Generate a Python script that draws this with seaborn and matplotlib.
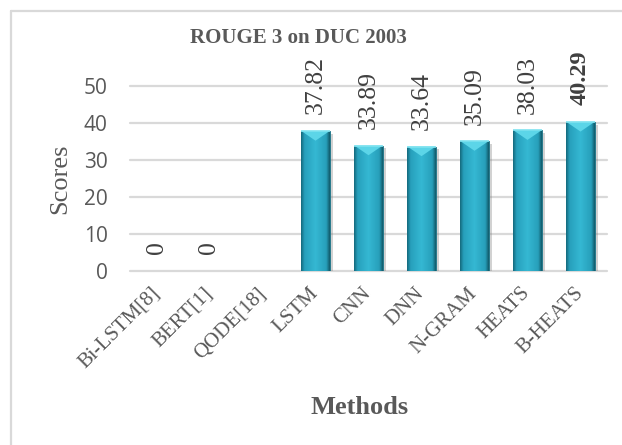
import numpy as np
import pandas as pd
import matplotlib
matplotlib.use("Agg")
import matplotlib.pyplot as plt
import seaborn as sns
from matplotlib.colors import LinearSegmentedColormap
from matplotlib.patches import Polygon
from matplotlib.lines import Line2D
import matplotlib.patheffects as pe

# ROUGE-3 scores on DUC 2003 (QODE has no reported score)
methods = ["Bi-LSTM[8]", "BERT[1]", "QODE[18]", "LSTM", "CNN", "DNN",
           "N-GRAM", "HEATS", "B-HEATS"]
scores = [0, 0, np.nan, 37.82, 33.89, 33.64, 35.09, 38.03, 40.29]
highlight = "B-HEATS"
y_ticks = [0, 10, 20, 30, 40, 50]

sns.set_theme(style="white")
plt.rcParams["font.family"] = ["Liberation Serif", "DejaVu Sans"]

TEXT = "#595959"
LABEL = "#404040"
GRID = "#d9d9d9"

fig = plt.figure(figsize=(6.22, 4.45), dpi=100)
W, H = 622, 445
ax = fig.add_axes([130 / W, 1 - 271 / H, 477 / W, (271 - 86) / H])

df = pd.DataFrame({"method": methods, "score": scores})
sns.barplot(data=df, x="method", y="score", order=methods, width=0.53,
            color="#2aa7c3", saturation=1, edgecolor="#1a6f82",
            linewidth=0.6, ax=ax)

# cylinder-like shading, bevelled top and soft drop shadow on each bar
shade = LinearSegmentedColormap.from_list(
    "shade", [(0.0, "#156a7e"), (0.12, "#27a0bc"), (0.5, "#35b8d3"),
              (0.88, "#279fba"), (1.0, "#125b6b")])
grad = np.tile(np.linspace(0, 1, 64), (8, 1))
for p in ax.patches:
    h = p.get_height()
    if not np.isfinite(h) or h <= 0:
        continue
    x0, w = p.get_x(), p.get_width()
    p.set_path_effects([pe.SimplePatchShadow(offset=(2.5, -2), shadow_rgbFace="#7f7f7f",
                                             alpha=0.35), pe.Normal()])
    im = ax.imshow(grad, cmap=shade, aspect="auto", extent=[x0, x0 + w, 0, h],
                   zorder=p.get_zorder() + 0.1, interpolation="bilinear")
    im.set_clip_path(p)
    tri = Polygon([[x0, h], [x0 + w, h], [x0 + w / 2, h - 2.6]], closed=True,
                  facecolor="#5cd5e8", edgecolor="none", zorder=p.get_zorder() + 0.2)
    ax.add_patch(tri)
    ax.plot([x0, x0 + w], [h, h], color="#7fe3f0", lw=1.2,
            zorder=p.get_zorder() + 0.3, solid_capstyle="butt")

ax.set_xlim(-0.5, len(methods) - 0.5)
ax.set_ylim(0, 50)
ax.set_yticks(y_ticks)
ax.yaxis.grid(True, color=GRID, lw=1.6)
for gl in ax.get_ygridlines():
    gl.set_clip_on(False)
ax.set_axisbelow(True)
for s in ax.spines.values():
    s.set_visible(False)

ax.set_xticks(range(len(methods)))
ax.set_xticklabels(methods, rotation=45, ha="right", va="center",
                   rotation_mode="anchor", fontsize=15, color=TEXT)
ax.tick_params(axis="x", length=0, pad=14)
ax.tick_params(axis="y", length=0, pad=16, labelsize=15, labelcolor=TEXT)
for t in ax.get_yticklabels():
    t.set_fontfamily(["Open Sans", "DejaVu Sans"])
ax.set_xlabel("")
ax.set_ylabel("")

# rotated value labels above each bar
for i, (m, v) in enumerate(zip(methods, scores)):
    if not np.isfinite(v):
        continue
    txt = "0" if v == 0 else f"{v:.2f}"
    bold = m == highlight
    ax.annotate(txt, (i, v), xytext=(0, 12), textcoords="offset points",
                rotation=90, ha="center", va="bottom",
                fontsize=17.5 if bold else 18.5, color=LABEL,
                fontweight="bold" if bold else "normal",
                annotation_clip=False)

fig.text(298 / W, 1 - 38 / H, "ROUGE 3 on DUC 2003", ha="center", va="center",
         fontsize=15, fontweight="bold", color=TEXT)
fig.text(60 / W, 1 - 179 / H, "Scores", ha="center", va="center",
         rotation=90, fontsize=19, color=TEXT)
fig.text(360 / W, 1 - 407 / H, "Methods", ha="center", va="center",
         fontsize=19, fontweight="bold", color=TEXT)

# chart-area border (left and top edges fall inside the canvas)
fig.add_artist(Line2D([11 / W, 11 / W], [0, 1 - 11 / H], color=GRID, lw=1.6))
fig.add_artist(Line2D([11 / W, 1], [1 - 11 / H, 1 - 11 / H], color=GRID, lw=1.6))

fig.savefig("out.png", dpi=100)
